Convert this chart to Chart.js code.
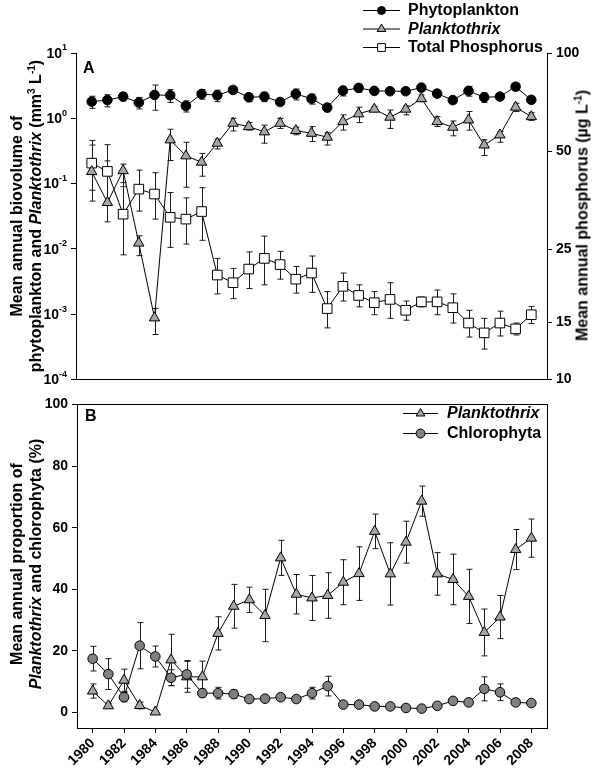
<!DOCTYPE html>
<html>
<head>
<meta charset="utf-8">
<script src="https://cdn.jsdelivr.net/npm/chart.js@4.4.1/dist/chart.umd.min.js"></script>
<style>
body { margin: 0; background: #fff; }
#wrap { position: relative; width: 600px; height: 771px; overflow: hidden; font-family: "Liberation Sans", Arial, sans-serif; font-weight: bold; color: #000; }
canvas { position: absolute; left: 0; }
.ttl { position: absolute; width: 400px; text-align: center; font-size: 16px; line-height: 19px; transform: rotate(-90deg); white-space: nowrap; }
.ttl sup { font-size: 10px; line-height: 0; vertical-align: 6px; }
</style>
</head>
<body>
<div id="wrap">
  <canvas id="chartA" width="600" height="392" style="top:0"></canvas>
  <canvas id="chartB" width="600" height="379" style="top:392px"></canvas>
  <div class="ttl" style="left:-174px;top:197px">Mean annual biovolume of<br>phytoplankton and <i>Planktothrix</i> (mm<sup>3</sup> L<sup>-1</sup>)</div>
  <div class="ttl" style="left:382px;top:206px">Mean annual phosphorus (µg L<sup>-1</sup>)</div>
  <div class="ttl" style="left:-174px;top:545px">Mean annual proportion of<br><i>Planktothrix</i> and chlorophyta (%)</div>
</div>
<script>
/* data */
const years = [1980,1981,1982,1983,1984,1985,1986,1987,1988,1989,1990,1991,1992,1993,1994,
  1995,1996,1997,1998,1999,2000,2001,2002,2003,2004,2005,2006,2007,2008];

// panel A - biovolume (mm3 L-1), log axis
const phytoMean = [1.80,1.90,2.15,1.74,2.28,2.25,1.55,2.36,2.25,2.72,2.10,2.15,1.78,2.36,2.00,
  1.46,2.65,2.92,2.63,2.60,2.60,2.95,2.39,1.90,2.63,2.10,2.15,3.05,1.92];
const phytoSE = [0.38,0.40,0.30,0.35,0.95,0.50,0.30,0.40,0.45,0.30,0.30,0.35,0.20,0.45,0.35,
  0.20,0.45,0.40,0.20,0.20,0.20,0.30,0.30,0.20,0.45,0.35,0.20,0.35,0.20];
const plankAMean = [0.153,0.0514,0.158,0.0123,0.00088,0.468,0.266,0.213,0.416,0.84,0.746,0.62,0.84,0.65,0.59,
  0.514,0.89,1.17,1.38,1.04,1.38,2.0,0.89,0.73,0.946,0.39,0.557,1.48,1.06];
const plankAHi = [0.39,0.223,0.199,0.0159,0.00123,0.68,0.43,0.29,0.48,1.0,0.86,0.785,1.0,0.73,0.746,
  0.6,1.13,1.48,1.52,1.34,1.55,2.28,1.06,0.91,1.27,0.47,0.63,1.7,1.22];
const plankALo = [0.054,0.026,0.09,0.0079,0.00049,0.226,0.088,0.13,0.34,0.64,0.66,0.416,0.70,0.56,0.44,
  0.39,0.66,0.86,1.27,0.70,1.13,1.8,0.75,0.54,0.66,0.27,0.43,1.27,0.93];
// total phosphorus (ug L-1), right log axis
const tpMean = [46.0,43.4,32.1,38.3,37.0,31.4,31.0,32.7,20.9,19.8,21.8,23.5,22.5,20.3,21.2,
  16.5,19.3,18.1,17.2,17.6,16.3,17.3,17.3,16.6,14.9,13.9,14.9,14.3,15.8];
const tpSE = [8,9,8,5.5,6,6,5,6,2.6,2.1,2.8,4,2.2,1.9,2.7,
  2.1,1.9,1.4,1.4,2.2,1.1,0.6,1.5,1.7,1.4,1.5,1.3,0.6,0.95];

// panel B - proportions (%)
const plankB = [7.0,2.2,10.5,2.3,0.2,17.1,11.6,11.6,25.7,34.5,36.6,31.5,50.2,38.4,37.2,
  38.0,42.3,45.1,58.8,45.0,55.3,68.6,45.0,43.2,37.7,26.0,31.0,52.9,56.6];
const plankBSE = [2.3,0.8,3.6,1.1,0.3,8.3,5.0,5.1,5.4,7.1,4.1,8.5,5.7,6.4,7.3,
  7.4,7.3,8.7,5.6,10.1,6.8,4.9,6.9,8.2,8.8,7.6,7.0,6.5,6.2];
const chloroB = [17.5,12.5,5.0,21.7,18.2,11.3,12.4,6.3,6.3,6.0,4.4,4.5,5.0,4.4,6.3,
  8.6,2.6,2.6,2.0,2.0,1.5,1.3,2.2,3.8,3.3,7.7,6.6,3.3,3.1];
const chloroBSE = [4.0,5.0,1.5,7.5,3.4,2.6,4.5,1.3,1.9,1.3,0.8,0.8,0.8,0.6,1.9,
  3.2,0.5,0.5,0.5,0.5,0.5,0.5,0.5,0.8,0.8,3.9,2.7,0.6,0.5];

// tick labels
const aLeftTicks = [0.0001,0.001,0.01,0.1,1,10];
const aRightTicks = [10,15,25,50,100];
const bYTicks = [0,20,40,60,80,100];
const xTicks = [1980,1982,1984,1986,1988,1990,1992,1994,1996,1998,2000,2002,2004,2006,2008];

const FONT = '"Liberation Sans", Arial, sans-serif';
Chart.defaults.font.family = FONT;
Chart.defaults.font.weight = 'bold';
Chart.defaults.color = '#000';

const pts = vals => years.map((y, i) => ({ x: y, y: vals[i] }));
const setTicks = vals => scale => { scale.ticks = vals.map(v => ({ value: v })); };

function marker(ctx, style, x, y, r) {
  ctx.beginPath();
  if (style === 'circle') ctx.arc(x, y, r, 0, Math.PI * 2);
  else if (style === 'triangle') {
    ctx.moveTo(x, y - r); ctx.lineTo(x + r * 0.866, y + r * 0.5); ctx.lineTo(x - r * 0.866, y + r * 0.5); ctx.closePath();
  } else { const s = r * 0.7071; ctx.rect(x - s, y - s, 2 * s, 2 * s); }
  ctx.fill(); ctx.stroke();
}

// error bars, drawn under the points
const errorBars = {
  id: 'errorBars',
  beforeDatasetsDraw(chart) {
    const ctx = chart.ctx;
    chart.data.datasets.forEach((ds, di) => {
      if (!ds.errHi) return;
      const meta = chart.getDatasetMeta(di);
      const xs = chart.scales[meta.xAxisID], ys = chart.scales[meta.yAxisID];
      ctx.save();
      ctx.strokeStyle = '#1a1a1a'; ctx.lineWidth = 1;
      ds.data.forEach((p, i) => {
        const x = Math.round(xs.getPixelForValue(p.x)) + 0.5;
        const yh = ys.getPixelForValue(ds.errHi[i]);
        const yl = ys.getPixelForValue(Math.max(ds.errLo[i], ys.min));
        ctx.beginPath();
        ctx.moveTo(x, yh); ctx.lineTo(x, yl);
        ctx.moveTo(x - 3, yh); ctx.lineTo(x + 3, yh);
        ctx.moveTo(x - 3, yl); ctx.lineTo(x + 3, yl);
        ctx.stroke();
      });
      ctx.restore();
    });
  }
};

// legend + panel letter
const sideLegend = {
  id: 'sideLegend',
  afterDraw(chart, args, o) {
    const ctx = chart.ctx;
    ctx.save();
    ctx.textBaseline = 'middle';
    ctx.fillStyle = '#000';
    ctx.font = 'bold 16px ' + FONT;
    ctx.fillText(o.letter, o.letterX, o.letterY);
    o.items.forEach((it, k) => {
      const ds = chart.data.datasets[it.ds];
      const y = o.rows[k];
      ctx.strokeStyle = '#000'; ctx.lineWidth = 1;
      ctx.beginPath(); ctx.moveTo(o.x0, y + 0.5); ctx.lineTo(o.x1, y + 0.5); ctx.stroke();
      ctx.fillStyle = ds.pointBackgroundColor;
      marker(ctx, ds.pointStyle, (o.x0 + o.x1) / 2, y + 0.5, it.r);
      ctx.fillStyle = '#000';
      ctx.font = (it.italic ? 'italic ' : '') + 'bold 16px ' + FONT;
      ctx.fillText(it.text, o.tx, y + 1);
    });
    ctx.restore();
  }
};

// 10^n labels with raised exponent for the left log axis
const powerLabels = {
  id: 'powerLabels',
  afterDraw(chart) {
    const ys = chart.scales.y, ctx = chart.ctx;
    const right = ys.right - 9;
    ctx.save();
    ctx.fillStyle = '#000';
    ctx.textBaseline = 'middle';
    aLeftTicks.forEach(v => {
      const y = ys.getPixelForValue(v);
      const ex = String(Math.round(Math.log10(v)));
      ctx.font = 'bold 9px ' + FONT;
      const we = ctx.measureText(ex).width;
      ctx.textAlign = 'left';
      ctx.fillText(ex, right - we, y - 5);
      ctx.font = 'bold 14px ' + FONT;
      ctx.textAlign = 'right';
      ctx.fillText('10', right - we, y + 1);
    });
    ctx.restore();
  }
};

// closes the box of panel B
const frame = {
  id: 'frame',
  afterDraw(chart) {
    const a = chart.chartArea, ctx = chart.ctx;
    ctx.save();
    ctx.strokeStyle = '#000'; ctx.lineWidth = 1;
    ctx.strokeRect(Math.round(a.left) + 0.5, Math.round(a.top) + 0.5, Math.round(a.right - a.left), Math.round(a.bottom - a.top));
    ctx.restore();
  }
};

const axisGrid = { display: true, drawOnChartArea: false, drawTicks: true, tickLength: 5, color: '#000' };
const axisBorder = { display: true, color: '#000', width: 1 };

new Chart(document.getElementById('chartA'), {
  type: 'line',
  data: {
    datasets: [
      { label: 'Phytoplankton', data: pts(phytoMean), yAxisID: 'y',
        errHi: phytoMean.map((m, i) => m + phytoSE[i]), errLo: phytoMean.map((m, i) => m - phytoSE[i]),
        borderColor: '#000', borderWidth: 1, pointStyle: 'circle', pointRadius: 4.8,
        pointBackgroundColor: '#000', pointBorderColor: '#000', pointBorderWidth: 1 },
      { label: 'Planktothrix', data: pts(plankAMean), yAxisID: 'y',
        errHi: plankAHi, errLo: plankALo,
        borderColor: '#000', borderWidth: 1, pointStyle: 'triangle', pointRadius: 6,
        pointBackgroundColor: '#a6a6a6', pointBorderColor: '#000', pointBorderWidth: 1 },
      { label: 'Total Phosphorus', data: pts(tpMean), yAxisID: 'y2',
        errHi: tpMean.map((m, i) => m + tpSE[i]), errLo: tpMean.map((m, i) => m - tpSE[i]),
        borderColor: '#000', borderWidth: 1, pointStyle: 'rect', pointRadius: 6.8,
        pointBackgroundColor: '#fff', pointBorderColor: '#000', pointBorderWidth: 1 }
    ]
  },
  options: {
    responsive: false, animation: false, devicePixelRatio: 1,
    layout: { padding: { top: 53, left: 0, right: 0, bottom: 0 } },
    elements: { line: { tension: 0 } },
    plugins: {
      legend: { display: false }, tooltip: { enabled: false },
      sideLegend: {
        letter: 'A', letterX: 83, letterY: 69,
        x0: 363, x1: 400, tx: 408, rows: [10, 28.5, 47],
        items: [
          { text: 'Phytoplankton', ds: 0, r: 4 },
          { text: 'Planktothrix', ds: 1, r: 5, italic: true },
          { text: 'Total Phosphorus', ds: 2, r: 5.5 }
        ]
      }
    },
    scales: {
      x: { type: 'linear', min: 1979, max: 2009, position: 'bottom',
        grid: { display: false }, border: axisBorder, ticks: { display: false },
        afterFit: s => { s.height = 12; } },
      y: { type: 'logarithmic', position: 'left', min: 0.0001, max: 10,
        afterBuildTicks: setTicks(aLeftTicks),
        grid: axisGrid, border: axisBorder, ticks: { display: false, autoSkip: false },
        afterFit: s => { s.width = 76; } },
      y2: { type: 'logarithmic', position: 'right', min: 10, max: 100,
        afterBuildTicks: setTicks(aRightTicks),
        grid: axisGrid, border: axisBorder,
        ticks: { autoSkip: false, padding: 4, font: { size: 14, weight: 'bold' }, callback: v => String(v) },
        afterFit: s => { s.width = 53; } }
    }
  },
  plugins: [errorBars, sideLegend, powerLabels]
});

new Chart(document.getElementById('chartB'), {
  type: 'line',
  data: {
    datasets: [
      { label: 'Chlorophyta', data: pts(chloroB),
        errHi: chloroB.map((m, i) => m + chloroBSE[i]), errLo: chloroB.map((m, i) => m - chloroBSE[i]),
        borderColor: '#000', borderWidth: 1, pointStyle: 'circle', pointRadius: 4.8,
        pointBackgroundColor: '#808080', pointBorderColor: '#000', pointBorderWidth: 1 },
      { label: 'Planktothrix', data: pts(plankB),
        errHi: plankB.map((m, i) => m + plankBSE[i]), errLo: plankB.map((m, i) => m - plankBSE[i]),
        borderColor: '#000', borderWidth: 1, pointStyle: 'triangle', pointRadius: 6,
        pointBackgroundColor: '#a6a6a6', pointBorderColor: '#000', pointBorderWidth: 1 }
    ]
  },
  options: {
    responsive: false, animation: false, devicePixelRatio: 1,
    layout: { padding: { top: 8, left: 0, right: 53, bottom: 0 } },
    elements: { line: { tension: 0 } },
    plugins: {
      legend: { display: false }, tooltip: { enabled: false },
      sideLegend: {
        letter: 'B', letterX: 85, letterY: 25,
        x0: 403, x1: 438, tx: 447, rows: [21, 41],
        items: [
          { text: 'Planktothrix', ds: 1, r: 5, italic: true },
          { text: 'Chlorophyta', ds: 0, r: 4.5 }
        ]
      }
    },
    scales: {
      x: { type: 'linear', min: 1979, max: 2009, position: 'bottom',
        afterBuildTicks: setTicks(xTicks),
        grid: axisGrid, border: axisBorder,
        ticks: { autoSkip: false, minRotation: 45, maxRotation: 45, padding: 2,
          font: { size: 14, weight: 'bold' }, callback: v => String(v) },
        afterFit: s => { s.height = 43; } },
      y: { type: 'linear', position: 'left', min: -5, max: 100,
        afterBuildTicks: setTicks(bYTicks),
        grid: axisGrid, border: axisBorder,
        ticks: { autoSkip: false, padding: 4, font: { size: 14, weight: 'bold' } },
        afterFit: s => { s.width = 77; } }
    }
  },
  plugins: [errorBars, sideLegend, frame]
});
</script>
</body>
</html>
